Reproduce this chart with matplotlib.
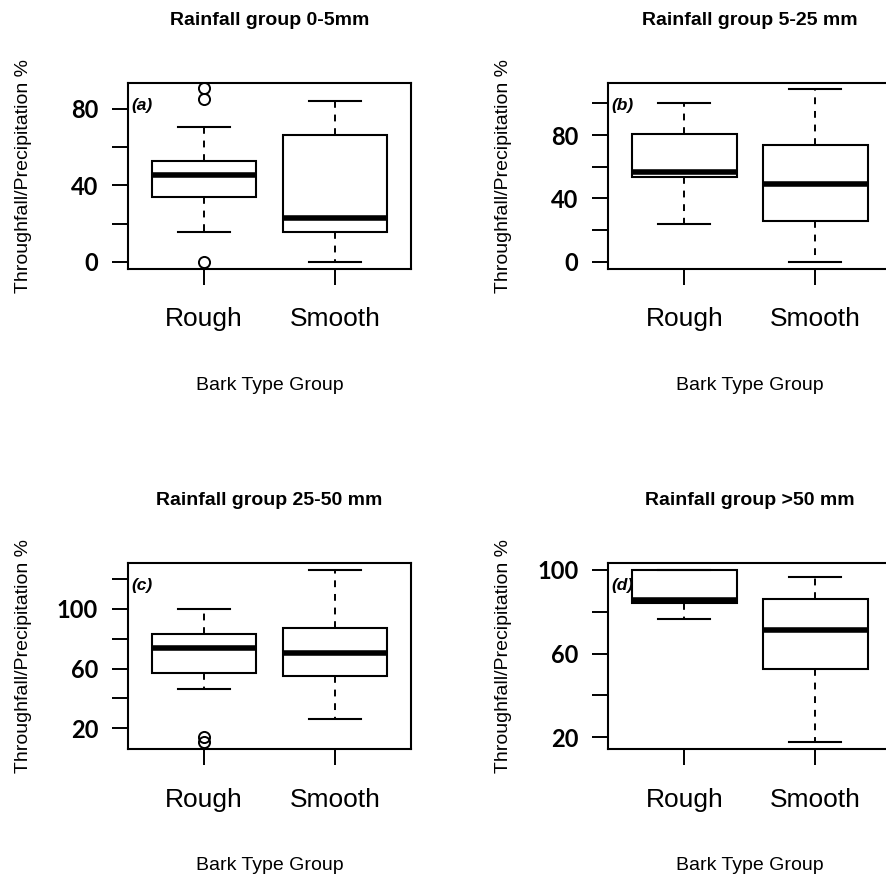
import matplotlib
matplotlib.use("Agg")
import matplotlib.pyplot as plt

categories = ["Rough", "Smooth"]
titles = ["Rainfall group 0-5mm", "Rainfall group 5-25 mm",
          "Rainfall group 25-50 mm", "Rainfall group >50 mm"]
panel_tags = ["(a)", "(b)", "(c)", "(d)"]

# per panel: [Rough, Smooth] summary stats
whislo = [[15.8, 0.0], [23.9, 0.0], [46.0, 26.2], [76.5, 17.6]]
q1     = [[33.7, 15.5], [53.4, 25.4], [57.3, 54.9], [84.1, 52.7]]
med    = [[45.4, 22.9], [56.5, 48.9], [74.0, 70.2], [85.6, 71.4]]
q3     = [[52.7, 66.4], [80.8, 73.7], [82.9, 87.3], [100.0, 86.0]]
whishi = [[70.6, 84.1], [100.0, 109.0], [100.0, 126.0], [100.0, 96.5]]
fliers = [[[0.0, 85.0, 91.0], []], [[], []], [[11.0, 14.0], []], [[], []]]

yticks = [[0, 20, 40, 60, 80], [0, 20, 40, 60, 80, 100],
          [20, 40, 60, 80, 100, 120], [20, 40, 60, 80, 100]]
yticklabels = [["0", "", "40", "", "80"], ["0", "", "40", "", "80", ""],
               ["20", "", "60", "", "100", ""], ["20", "", "60", "", "100"]]
ylims = [(-3.7, 93.4), (-4.6, 112.9), (6.0, 130.4), (14.3, 103.1)]

fig = plt.figure(figsize=(8.87, 8.77), dpi=100)
positions = [(0.1443, 0.6933), (0.6858, 0.6933), (0.1443, 0.1456), (0.6858, 0.1456)]
W, H = 0.319, 0.2121

for i in range(4):
    ax = fig.add_axes([positions[i][0], positions[i][1], W, H])
    stats = []
    for j in range(2):
        stats.append(dict(whislo=whislo[i][j], q1=q1[i][j], med=med[i][j],
                          q3=q3[i][j], whishi=whishi[i][j], fliers=fliers[i][j]))
    ax.bxp(stats, positions=[1, 2], widths=0.8, capwidths=0.4, patch_artist=True,
           boxprops=dict(facecolor="white", edgecolor="black", linewidth=1.5),
           medianprops=dict(color="black", linewidth=4.0, solid_capstyle="butt"),
           whiskerprops=dict(color="black", linewidth=1.4, linestyle=(0, (3.5, 3.5))),
           capprops=dict(color="black", linewidth=1.5),
           flierprops=dict(marker="o", markerfacecolor="none", markeredgecolor="black",
                           markersize=8, markeredgewidth=1.4))
    ax.set_xlim(0.42, 2.58)
    ax.set_ylim(*ylims[i])
    ax.set_yticks(yticks[i])
    ax.set_yticklabels(yticklabels[i], fontfamily="Lato", fontweight="bold", fontsize=17)
    ax.set_xticks([1, 2])
    ax.set_xticklabels(categories, fontfamily="Liberation Sans", fontsize=19)
    ax.tick_params(axis="both", direction="out", length=11.5, width=1.4, color="black")
    ax.tick_params(axis="y", pad=10)
    ax.tick_params(axis="x", pad=16)
    for s in ax.spines.values():
        s.set_linewidth(1.5)
    ax.set_title(titles[i], fontfamily="Liberation Sans", fontweight="bold",
                 fontsize=14, pad=42)
    ax.set_xlabel("Bark Type Group", fontfamily="Liberation Sans", fontsize=14,
                  labelpad=33)
    ax.set_ylabel("Throughfall/Precipitation %", fontfamily="Liberation Sans",
                  fontsize=14)
    ax.yaxis.set_label_coords(-0.34, 0.5)
    ax.text(0.012, 0.88, panel_tags[i], transform=ax.transAxes, fontfamily="Liberation Sans",
            fontweight="bold", fontstyle="italic", fontsize=12.5, ha="left", va="center",
            zorder=1)

fig.savefig("out.png", dpi=100, facecolor="white")
